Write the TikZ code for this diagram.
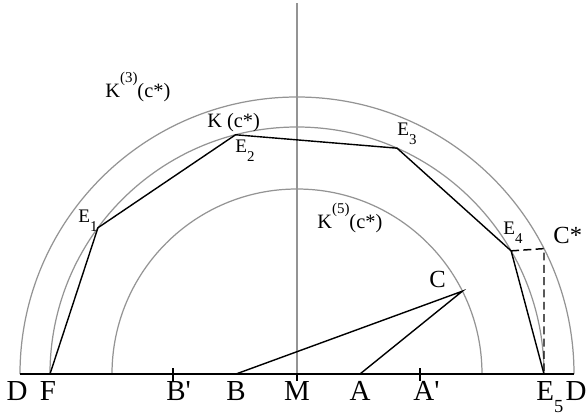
\documentclass[tikz,border=0pt]{standalone}
\usepackage{fontspec}
\setmainfont{Liberation Serif}
\usepackage{tkz-euclide}

\newcommand{\lowsub}[2]{\raisebox{#1}{\fontsize{8.5}{9}\selectfont #2}}
\newcommand{\highsup}[1]{\raisebox{8pt}{\fontsize{8.5}{9}\selectfont #1}}

\tikzset{
    greyline/.style={draw=black!42, line width=0.7pt},
    blackline/.style={draw=black, line width=0.8pt},
    elbl/.style={inner sep=0pt, anchor=base west, font=\fontsize{10.9}{12}\selectfont},
    klbl/.style={inner sep=0pt, anchor=base west, font=\fontsize{11.6}{13}\selectfont},
    clbl/.style={inner sep=0pt, anchor=base west, font=\fontsize{14}{15}\selectfont},
    axlbl/.style={inner sep=0pt, anchor=base, font=\fontsize{16.5}{18}\selectfont}
}

\begin{document}
\begin{tikzpicture}
    \useasboundingbox (-5.94,-0.88) rectangle (5.8,7.48);
    \tkzDefPoint(0,0){M}
    \tkzDefPoint(0,7.42){N}
    \tkzDefPoint(-5.54,0){Dl}
    \tkzDefPoint(5.54,0){Dr}
    \tkzDefPoint(-4.94,0){F}
    \tkzDefPoint(4.94,0){E5}
    \tkzDefPoint(3.7,0){I}
    \tkzDefPoint(143.7:4.94){E1}
    \tkzDefPoint(104.4:4.94){E2}
    \tkzDefPoint(66.1:4.94){E3}
    \tkzDefPoint(29.9:4.94){E4}
    \tkzDefPoint(26.6:3.7){C}
    \tkzDefPoint(4.94,2.508){Cs}
    \tkzDefPoint(-1.22,0){B}
    \tkzDefPoint(1.26,0){A}
    \tkzDefPoint(-2.48,0){Bp}
    \tkzDefPoint(2.46,0){Ap}
    \draw[greyline] (Dr) arc[start angle=0, end angle=180, radius=5.54];
    \draw[greyline] (E5) arc[start angle=0, end angle=180, radius=4.94];
    \draw[greyline] (I) arc[start angle=0, end angle=180, radius=3.7];
    \draw[greyline] (N) -- (M);
    \draw[blackline] (Dl) -- (Dr);
    \draw[blackline] ([yshift=0.12cm]Bp) -- ([yshift=-0.14cm]Bp);
    \draw[blackline] ([yshift=0.12cm]Ap) -- ([yshift=-0.14cm]Ap);
    \draw[blackline] (M) -- ([yshift=-0.14cm]M);
    \draw[blackline] (F) -- (E1) -- (E2) -- (E3) -- (E4) -- (E5);
    \draw[blackline] (B) -- (C) -- (A);
    \draw[blackline, line width=0.85pt, dash pattern=on 4.5pt off 2.5pt] (E4) -- (Cs) -- (E5);
    \node[klbl] (lK3) at (-3.84,5.54) {K\highsup{(3)}(c*)};
    \node[klbl] (lK) at (-1.8,4.94) {K (c*)};
    \node[klbl] (lK5) at (0.4,2.92) {K\highsup{(5)}(c*)};
    \node[elbl] (lE1) at (-4.38,3.04) {E\lowsub{-5.5pt}{1}};
    \node[elbl] (lE2) at (-1.24,4.44) {E\lowsub{-5.5pt}{2}};
    \node[elbl] (lE3) at (2.0,4.78) {E\lowsub{-5.5pt}{3}};
    \node[elbl] (lE4) at (4.12,2.8) {E\lowsub{-5.5pt}{4}};
    \node[clbl] (lCs) at (5.12,2.62) {C*};
    \node[clbl] (lC) at (2.64,1.74) {C};
    \node[axlbl] (lDl) at ([yshift=-0.52cm, xshift=-0.06cm]Dl) {D};
    \node[axlbl] (lF) at ([yshift=-0.52cm, xshift=-0.04cm]F) {F};
    \node[axlbl, anchor=base west] (lBp) at ([yshift=-0.52cm, xshift=-0.14cm]Bp) {B\textquotesingle};
    \node[axlbl] (lB) at ([yshift=-0.52cm]B) {B};
    \node[axlbl] (lM) at ([yshift=-0.52cm]M) {M};
    \node[axlbl] (lA) at ([yshift=-0.52cm]A) {A};
    \node[axlbl, anchor=base west] (lAp) at ([yshift=-0.52cm, xshift=-0.14cm]Ap) {A\textquotesingle};
    \node[axlbl, anchor=base west] (lE5) at ([yshift=-0.52cm, xshift=-0.16cm]E5) {E\lowsub{-7pt}{\fontsize{10.5}{11}\selectfont 5}};
    \node[axlbl] (lDr) at ([yshift=-0.52cm, xshift=0.04cm]Dr) {D};
\end{tikzpicture}
\end{document}
